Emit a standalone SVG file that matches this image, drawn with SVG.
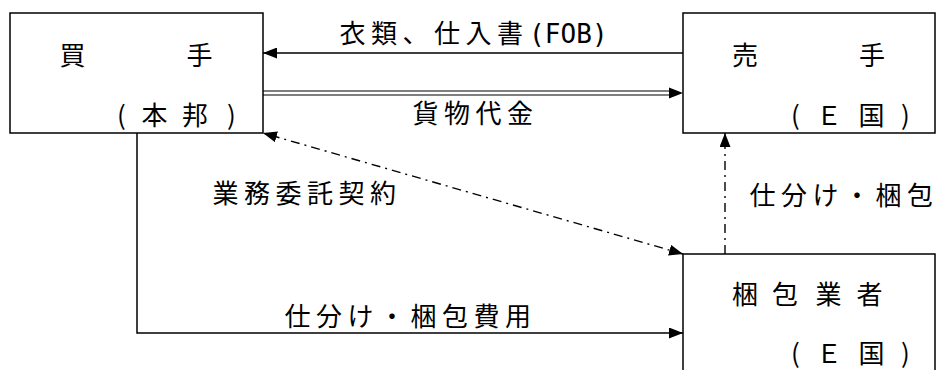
<svg xmlns="http://www.w3.org/2000/svg" width="936" height="370" viewBox="0 0 936 370">
  <style>
    .box { fill: #ffffff; stroke: #000000; stroke-width: 1.5; }
    .ln { fill: none; stroke: #000000; stroke-width: 1.5; }
    .dd { fill: none; stroke: #000000; stroke-width: 1.4; stroke-dasharray: 9 5 2 5; }
    .tx { font-family: "Noto Sans CJK JP", "Noto Sans", sans-serif; font-size: 26px; fill: #000000; }
    .sp { letter-spacing: 5.5px; }
    .mono { font-family: "DejaVu Sans Mono", monospace; letter-spacing: 0.1px; }
  </style>
  <defs>
    <marker id="ah" markerUnits="userSpaceOnUse" markerWidth="14" markerHeight="11" refX="14" refY="5.5" orient="auto-start-reverse" viewBox="0 0 14 11">
      <path d="M0,0 L14,5.5 L0,11 Z" fill="#000000"/>
    </marker>
  </defs>

  <g id="node-buyer">
    <rect class="box" x="10" y="13" width="253" height="120"/>
    <text class="tx" x="59.5 186.5" y="65">買手</text>
    <text class="tx" x="117 141.5 182 227" y="125">(本邦)</text>
  </g>

  <g id="node-seller">
    <rect class="box" x="683" y="13" width="252" height="120"/>
    <text class="tx" x="732 859" y="65">売手</text>
    <text class="tx" x="791 816 858.5 901" y="125">(Ｅ国)</text>
  </g>

  <g id="node-packer">
    <rect class="box" x="683" y="254" width="252" height="140"/>
    <text class="tx" x="732 772 815.5 856.5" y="304">梱包業者</text>
    <text class="tx" x="791 816 858.5 901" y="363">(Ｅ国)</text>
  </g>

  <g id="connectors">
    <line class="ln" x1="683" y1="53" x2="263" y2="53" marker-end="url(#ah)"/>
    <line class="ln" x1="263" y1="91" x2="672" y2="91" style="stroke-width:1.2"/>
    <line class="ln" x1="263" y1="95" x2="672" y2="95" style="stroke-width:1.2"/>
    <polygon points="669,87.5 683,93 669,98.5" fill="#000000"/>
    <line class="dd" x1="683" y1="254" x2="263" y2="133" marker-start="url(#ah)" marker-end="url(#ah)"/>
    <line class="dd" x1="725" y1="254" x2="725" y2="133" marker-end="url(#ah)"/>
    <polyline class="ln" points="137,133 137,333 683,333" marker-end="url(#ah)"/>
  </g>

  <g id="labels">
    <text class="tx sp" x="339.5" y="43">衣類、仕入書<tspan class="mono" x="529">(FOB)</tspan></text>
    <text class="tx sp" x="412.5" y="123">貨物代金</text>
    <text class="tx sp" x="212.5" y="203">業務委託契約</text>
    <text class="tx" x="749.5 781 812.5 844 875.5 907" y="205">仕分け・梱包</text>
    <text class="tx sp" x="284.5" y="326">仕分け・梱包費用</text>
  </g>
</svg>
